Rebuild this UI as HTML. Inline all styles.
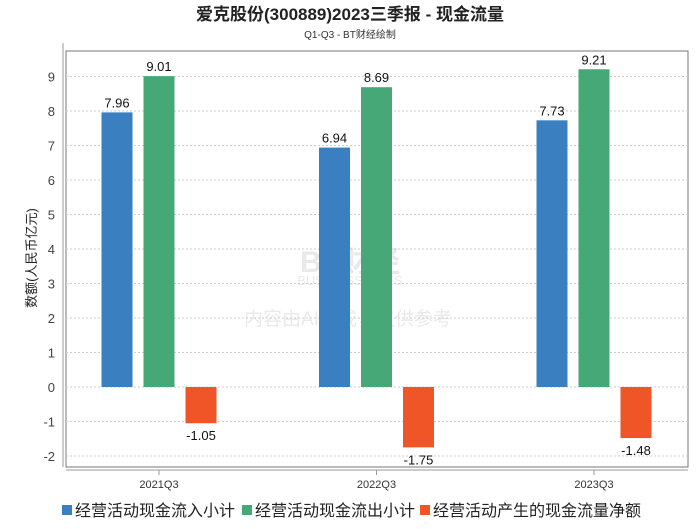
<!DOCTYPE html>
<html><head><meta charset="utf-8"><style>
body{margin:0;background:#fff;font-family:"Liberation Sans","Noto Sans CJK SC",sans-serif;}
</style></head><body>
<svg width="700" height="524" xmlns="http://www.w3.org/2000/svg" font-family="Liberation Sans, Noto Sans CJK SC, sans-serif">
<text x="350" y="20" text-anchor="middle" font-size="17" font-weight="bold" fill="#222">爱克股份(300889)2023三季报 - 现金流量</text>
<text x="350" y="38" text-anchor="middle" font-size="10" fill="#333">Q1-Q3 - BT财经绘制</text>
<g opacity="0.12" fill="#555">
<text x="350" y="272" text-anchor="middle" font-size="30" font-weight="bold">BT财经</text>
<text x="350" y="285" text-anchor="middle" font-size="13">BUSINESSTIMES</text>
<text x="348" y="325" text-anchor="middle" font-size="19">内容由AI生成，仅供参考</text>
</g>
<line x1="63" y1="43" x2="63" y2="467" stroke="#ccc" stroke-width="2"/>
<line x1="66" y1="470" x2="688" y2="470" stroke="#ccc" stroke-width="2"/>
<rect x="66" y="51" width="622" height="416" fill="none" stroke="#777"/>
<g id="grid"></g><g id="bars"></g><g id="xlabels"></g>
<text transform="translate(36,258) rotate(-90)" text-anchor="middle" font-size="13" fill="#222">数额(人民币亿元)</text>
<g font-size="16" fill="#222">
<rect x="62" y="505" width="10" height="10" fill="#3a80c0"/><text x="75" y="516">经营活动现金流入小计</text>
<rect x="242" y="505" width="10" height="10" fill="#46a876"/><text x="255" y="516">经营活动现金流出小计</text>
<rect x="420" y="505" width="10" height="10" fill="#f05528"/><text x="433" y="516">经营活动产生的现金流量净额</text>
</g>
</svg>
<script>
const categories=["2021Q3","2022Q3","2023Q3"];
const inflow=[7.96,6.94,7.73];
const outflow=[9.01,8.69,9.21];
const netflow=[-1.05,-1.75,-1.48];
const ticks=[-2,-1,0,1,2,3,4,5,6,7,8,9];
const NS="http://www.w3.org/2000/svg";
const y=v=>387-v*34.5;
const x=i=>159+i*217.5;
function mk(t,a,p){const e=document.createElementNS(NS,t);for(const k in a)e.setAttribute(k,a[k]);p.appendChild(e);return e;}
const grid=document.getElementById('grid'),bars=document.getElementById('bars'),xl=document.getElementById('xlabels');
ticks.forEach(t=>{
 const l=mk('line',{x1:66,x2:688,y1:y(t),y2:y(t),stroke:'#ccc','stroke-dasharray':'2,2'},grid);
 
 
 const tx=mk('text',{x:55,y:y(t)+5,'text-anchor':'end','font-size':13,fill:'#444'},grid);
 tx.textContent=t;
 
 
});
const series=[[inflow,'#3a80c0',-42,'inflow'],[outflow,'#46a876',0,'outflow'],[netflow,'#f05528',42,'net']];
categories.forEach((c,i)=>{
 series.forEach(([arr,col,off,nm])=>{
  const v=arr[i],y0=y(0),y1=y(v);
  const r=mk('rect',{x:x(i)+off-15.5,y:Math.min(y0,y1),width:31,height:Math.abs(y1-y0),fill:col},bars);
  
  
  const t=mk('text',{x:x(i)+off,y:v>=0?y1-5:y1+17,'text-anchor':'middle','font-size':13,fill:'#111'},bars);
  t.textContent=v.toFixed(2);
  
  
 });
 mk('line',{x1:x(i),x2:x(i),y1:470,y2:475,stroke:'#999'},xl);
 const t=mk('text',{x:x(i),y:488,'text-anchor':'middle','font-size':11,fill:'#333'},xl);
 t.textContent=c;
 
 
});
</script>
</body></html>
